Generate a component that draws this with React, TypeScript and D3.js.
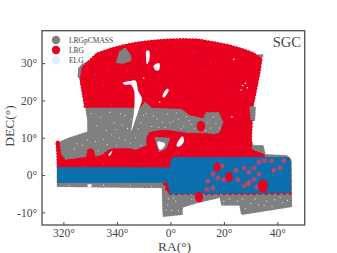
import React, { useEffect, useRef } from 'react';
import * as d3 from 'd3';

type Pt = [number, number];

// survey footprints as [RA wrapped to -180..180, DEC]
const lrgpcmassFootprint: Pt[] = [
  [-34.4, 26.5], [-34.2, 28.6], [-33, 29.6], [-27.5, 31.5], [-22.5, 33], [-17.8, 33.9], [-12.1, 34.7], [-6, 35.2], [-0.9, 35.5],
  [5, 35.6], [10.3, 35.5], [16.6, 34.7], [22.2, 33.9], [26.5, 33], [30.8, 32], [34.6, 32.2], [33.6, 30.8], [32, 27.3],
  [30.4, 20.1], [30.2, 18.2], [30, 14.7], [29.8, 10.2], [30.8, 7.8], [34.6, 7.8], [35.3, 5.4],
  [43.6, 5.1], [45, 4], [45.2, -8.4], [26.7, -10.5], [26, -8], [19.3, -8], [18.6, -5.9], [9.2, -7.5],
  [4.3, -8.6], [4.3, -10.5], [-2.6, -11], [-3, -3.3], [-42.2, -3], [-42.2, 8], [-41.3, 8.8],
  [-37.6, 9.9], [-30.8, 11.5], [-30.8, 14.7], [-31.6, 18.2], [-31.4, 19.3], [-33, 24.7],
];
const lrgNorth: Pt[] = [
  [-33.4, 26], [-32.8, 28.8], [-27.5, 32.5], [-22.5, 33.8], [-17.8, 34.7], [-12.1, 35.5], [-6, 36], [-0.9, 36.3], [5, 36.4], [10.3, 36.3],
  [16.6, 35.5], [22.2, 34.7], [26.5, 33.8], [30.8, 32.7], [34, 31.1], [33.2, 27.3], [31.2, 20.1], [30.6, 18.2],
  [30.4, 14.7], [30.1, 10.2], [30.1, 6.7], [34.6, 5.5], [35.3, 4.6], [0.6, 4.4], [0, 1.5], [-42, 1.5],
  [-42.2, 6], [-42.6, 8.8], [-41.8, 9], [-41.2, 5.4], [-39.4, 3.8], [-31.2, 4.6], [-30.6, 6.8], [-29.2, 6.8],
  [-28.2, 4.6], [-25.2, 5.2], [-23.4, 6.4], [-21.5, 6.9], [-15, 6.9], [-13.3, 6.4], [-8.6, 7.7],
  [-8.6, 9.9], [-7.7, 11.2], [-3.9, 11.8], [-0.9, 11.8], [4.7, 11.2], [6.5, 11], [12.1, 11],
  [16.6, 10.7], [18.7, 11.2], [20.2, 14.2], [18.3, 17.1], [12.9, 17.1], [12.1, 15.5], [7.3, 16.3],
  [4.3, 18], [-6.9, 18.3], [-9.5, 20.1], [-11.4, 18.3], [-32, 18.3], [-32, 19], [-33.4, 24.7],
];
const lrgSouth: Pt[] = [
  [-0.6, 2], [44.6, 4.4], [44.8, -4.9], [30, -5], [10, -5], [0, -5], [-1, -4.6], [-2.4, -2.1], [-2.4, 1],
];
const elgFootprint: Pt[] = [
  [-42.2, 2], [-0.2, 1.9], [0.6, 4.7], [43.6, 4.7], [44.9, 3.8], [44.9, -4.7], [0, -5], [-0.9, -1.9], [-42.2, -2],
];

const grayPatches: Pt[][] = [
  [[-20, 30.3], [-18.9, 33], [-17, 34], [-15.1, 32.2], [-14.8, 30.8], [-17.8, 30]],
  [[29.9, 18.2], [31.6, 18.2], [31.4, 14.7], [30.2, 15]],
  [[-5.6, 10], [-0.4, 9.8], [-1.8, 7.2], [-4.2, 6.4]],
];
const whiteHoles: Pt[][] = [
  [[-17.8, 24.7], [-15, 25.2], [-13, 25.3], [-12, 22.5], [-10.6, 20.4], [-11.5, 18.2], [-13, 15],
    [-14.6, 11.8], [-13.6, 17], [-13.4, 20.5], [-13.6, 22.6], [-14.8, 24.2], [-17, 24.2]],
  [[-9, 33.3], [-8, 33.3], [-7.9, 30.8], [-8.8, 29.7], [-9.1, 31.6]],
  [[-6.3, 29.2], [-4.2, 30], [-4.2, 28.2], [-5.3, 28]],
  [[-1.4, 23.1], [-0.6, 22.9], [-2.3, 20.8], [-3, 21]],
  [[-4.8, 8.9], [-2, 8.4], [-3.2, 6.9], [-4.1, 6.9]],
  [[2.4, 8.3], [4.5, 10.4], [5.1, 9.2], [3.6, 7.7], [2.4, 7.7]],
  [[-23.2, 5.4], [-21.7, 6.5], [-22.6, 5.2]],
  [[-31, -2.6], [-29.4, -2.6], [-29.8, -3.2], [-30.8, -3.2]],
];

// masked stars: solid ones sit over everything, the faded ones show through the ELG layer
const starsSolid: Pt[] = [[17.4, 2.1], [21.9, -0.5], [34.6, -2.9], [11.4, 13.1], [10.7, -5.9]];
const starsSolidRadius = [3.6, 3.8, 5, 4.2, 4];
const starsFaded: Pt[] = [
  [19.3, 2.4], [15.9, 0.3], [17.8, -0.8], [20, -1.3], [14, -1.6], [15.9, -3.5], [13.6, -3.8], [24.5, 1.3],
  [27.5, 1.9], [29.3, 0.8], [31.2, 1.9], [33.1, 0.3], [31.2, -1.1], [29.3, -1.9], [25.2, -1.3], [27.5, -2.9],
  [29, -2.4], [32.3, -3.2], [33.1, 3.5], [35.3, 3.8], [37.9, 3.8], [38.7, 1.3], [40.9, 1.9], [42.4, 3.8],
];

const whiteSpecks: Pt[] = [
  [-26, 15.5], [-24, 12], [-21, 14], [-19, 10], [-17, 16], [-16, 12.5], [-13, 10], [-11, 14], [-9, 16.5],
  [-7, 13], [-5, 15], [-3, 14.2], [-1, 16.4], [1, 14.4], [3, 15], [5, 13], [7, 14.6], [9, 12.4], [14, 14],
  [16, 15.6], [15, 12.6], [-28, 9], [-27, 6.5], [-33, 8], [-36, 7], [-15, 8.6], [-11, 8], [8, -6.5], [-1, -8],
  [0.5, -9.5], [2, -7], [22, -6.4], [25, -7], [30, -7.6], [33, -8], [36, -7], [39, -6.6], [42, -7.4], [28, -9],
  [-38, -2.8], [-25, -2.7], [-15, -2.8], [-7, -3], [-29.5, 16.5], [-27.5, 13.2], [-25, 9.6], [-22.6, 16.8],
  [-22, 10.8], [-20.4, 12.2], [-18, 13.4], [-18.6, 16.4], [-16.8, 9.4], [-14.6, 14.8], [-12, 12.4], [-10, 16],
  [-8, 10.8], [-6.4, 15.8], [-4.4, 12.8], [-2, 12.8], [-0.2, 14], [2.2, 16.6], [4, 12.4], [6, 15.6], [8, 13.6],
  [10.4, 16], [13.2, 12], [17, 13.8], [18.4, 12.6], [-35, 8.4], [-31, 9.4], [-29.6, 5.4], [-23.6, 8.2], [-20, 8],
  [-0.8, -6.4], [1.2, -6.2], [-1.6, -9.4], [3, -9.6], [20, -7], [24, -8.6], [27, -6.4], [31.6, -6.4], [35, -8.2],
  [38, -8.4], [41, -6], [43.8, -6.8],
];
const graySpecks: Pt[] = [
  [-28, 27], [-25, 24], [-30, 22], [-23, 28], [-20, 22], [-27, 20], [-22, 19], [-16, 28], [-6, 34], [-3, 33],
  [-1, 35], [2, 34.4], [7, 34], [8.5, 33.6], [9.5, 33], [8.4, 32.6], [12, 28], [15, 30], [18, 26], [21, 32],
  [25, 22], [28, 27], [22, 22], [18, 20], [4, 27], [0, 29], [7, 24], [10, 22], [-5, 24], [-8, 20.5], [2, 21],
  [28.5, 12], [24, 10], [26, 7], [22, 8], [14, 7], [8, 9], [-18, 4], [-25, 3], [-32, 2.6], [3, 6], [-12, 3],
  [31, 33], [-33, 27], [6, 35.4], [14, 34.6], [-12, 33],
];
const whiteInRed: Pt[] = [[23.7, 31], [28, 24.6], [28.8, 23.4], [27, 24], [26.4, 22.8], [-10, 26], [-4, 19.6], [23, 15.6]];
const elgSpecks: Pt[] = [[-31, -0.6], [-26, 0.4], [-15, -0.5], [-4, 0.6], [5, 2], [8, -2], [38, -3], [-36, 0.8]];

const raTicks = [-40, -20, 0, 20, 40];
const decTicks = [-10, 0, 10, 20, 30];
const legendLabels = ['LRGpCMASS', 'LRG', 'ELG'];
const legendColors = ['#808080', '#e8001e', '#e2eff7'];

const W = 337;
const H = 253;
const serif = '"Liberation Serif", serif';

const App = () => {
  const ref = useRef<SVGSVGElement>(null);

  useEffect(() => {
    const svg = d3.select(ref.current);
    svg.selectAll('*').remove();

    const x = d3.scaleLinear().domain([-48, 50.2]).range([42, 304.7]);
    const y = d3.scaleLinear().domain([-13.4, 38.7]).range([225, 30.7]);
    const line = d3.line<Pt>().x(d => x(d[0])).y(d => y(d[1])).curve(d3.curveLinearClosed);
    const smooth = d3.line<Pt>().x(d => x(d[0])).y(d => y(d[1])).curve(d3.curveCatmullRomClosed);

    // filled region plus a row of round dots along its edge, so the border looks made of points
    const area = (polys: Pt[][], fill: string, dotSize: number, gap: number, bodyStroke: number) => {
      const g = svg.append('g');
      g.selectAll('path.body')
        .data(polys)
        .enter().append('path')
        .attr('class', 'body')
        .attr('d', d => line(d))
        .attr('fill', fill)
        .attr('stroke', fill)
        .attr('stroke-width', bodyStroke)
        .attr('stroke-linejoin', 'round');
      g.selectAll('path.edge')
        .data(polys)
        .enter().append('path')
        .attr('class', 'edge')
        .attr('d', d => line(d))
        .attr('fill', 'none')
        .attr('stroke', fill)
        .attr('stroke-width', dotSize)
        .attr('stroke-linecap', 'round')
        .attr('stroke-dasharray', `0 ${gap}`);
    };
    const dots = (pts: Pt[], fill: string, r: number) => {
      svg.append('g')
        .selectAll('circle')
        .data(pts)
        .enter().append('circle')
        .attr('cx', d => x(d[0]))
        .attr('cy', d => y(d[1]))
        .attr('r', r)
        .attr('fill', fill);
    };

    area([lrgpcmassFootprint], '#808080', 2, 2.6, 1);
    dots(whiteSpecks, '#efefef', 0.55);
    area([lrgNorth], '#e8001e', 2.6, 3.2, 1.3);
    area([lrgSouth], '#e8001e', 3.2, 6, 0);
    dots(graySpecks, '#b9585f', 0.55);
    area(grayPatches, '#808080', 2, 2.6, 1);
    svg.append('g')
      .selectAll('path')
      .data(whiteHoles)
      .enter().append('path')
      .attr('d', d => smooth(d))
      .attr('fill', '#fff');
    dots(whiteInRed, '#fff', 0.8);
    area([elgFootprint], '#0b6fae', 1.4, 2.4, 0.7);
    dots(elgSpecks, '#5d6d98', 0.5);
    dots(starsFaded, '#a84c72', 2.5);
    svg.append('g')
      .selectAll('ellipse')
      .data(starsSolid)
      .enter().append('ellipse')
      .attr('cx', d => x(d[0]))
      .attr('cy', d => y(d[1]))
      .attr('rx', (_, i) => starsSolidRadius[i])
      .attr('ry', (_, i) => starsSolidRadius[i] * 1.3)
      .attr('fill', '#e8001e');

    const bottom = svg.append('g')
      .attr('transform', 'translate(0,225)')
      .call(d3.axisBottom(x).tickValues(raTicks).tickSize(-3).tickPadding(4)
        .tickFormat(d => `${(+d + 360) % 360}°`));
    const left = svg.append('g')
      .attr('transform', 'translate(42,0)')
      .call(d3.axisLeft(y).tickValues(decTicks).tickSize(-3).tickPadding(5)
        .tickFormat(d => `${d}°`));
    [bottom, left].forEach(ax => {
      ax.select('.domain').remove();
      ax.selectAll('line').attr('stroke', '#444').attr('stroke-width', 1);
      ax.selectAll('text').attr('fill', '#444').style('font-family', serif).style('font-size', '11.5px');
    });

    svg.append('rect')
      .attr('x', 42).attr('y', 30.7)
      .attr('width', 262.7).attr('height', 194.3)
      .attr('fill', 'none').attr('stroke', '#5a5a5a').attr('stroke-width', 1.4);

    const legend = svg.append('g')
      .selectAll('g')
      .data(legendLabels)
      .enter().append('g')
      .attr('transform', (_, i) => `translate(56,${40 + i * 10})`);
    legend.append('circle')
      .attr('r', 4.2)
      .attr('fill', (_, i) => legendColors[i]);
    legend.append('text')
      .attr('x', 13).attr('y', 2.5)
      .attr('fill', '#444')
      .style('font-family', serif).style('font-size', '7.5px')
      .text(d => d);

    svg.append('text')
      .attr('x', 301).attr('y', 47)
      .attr('text-anchor', 'end')
      .attr('fill', '#444')
      .style('font-family', serif).style('font-size', '14.5px')
      .text('SGC');
    svg.append('text')
      .attr('x', 174.5).attr('y', 251)
      .attr('text-anchor', 'middle')
      .attr('fill', '#444')
      .style('font-family', serif).style('font-size', '13.5px')
      .text('RA(°)');
    svg.append('text')
      .attr('transform', 'translate(14,126) rotate(-90)')
      .attr('text-anchor', 'middle')
      .attr('fill', '#444')
      .style('font-family', serif).style('font-size', '13.5px')
      .text('DEC(°)');
  }, []);

  return <svg ref={ref} width={W} height={H} style={{ position: 'absolute', left: 0, top: 0 }} />;
};

export default App;
